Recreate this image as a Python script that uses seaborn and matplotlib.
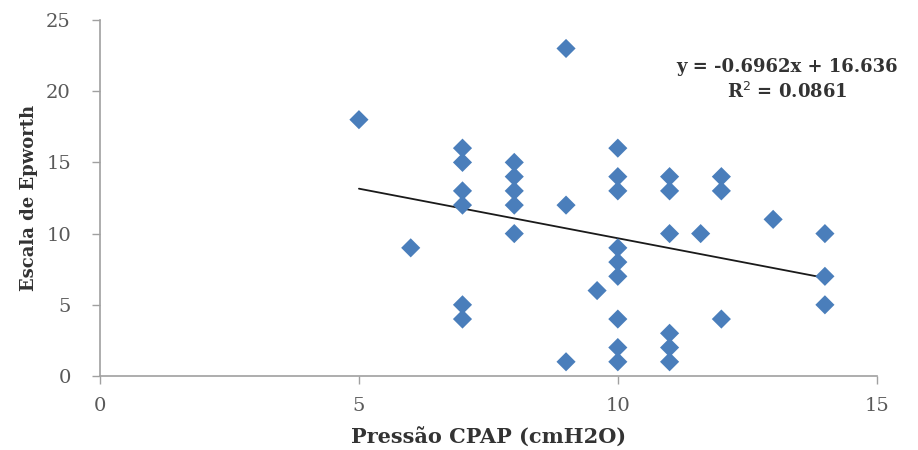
# Scatter of Epworth score vs CPAP pressure with linear trend line
import numpy as np
import pandas as pd
import matplotlib
matplotlib.use('Agg')
import matplotlib.pyplot as plt
import seaborn as sns

# Data
pressao = [5, 6,
           7, 7, 7, 7, 7, 7,
           8, 8, 8, 8, 8,
           9, 9, 9, 9.6,
           10, 10, 10, 10, 10, 10, 10, 10, 10,
           11, 11, 11, 11, 11, 11, 11.6,
           12, 12, 12, 13,
           14, 14, 14]
epworth = [18, 9,
           16, 15, 13, 12, 5, 4,
           15, 14, 13, 12, 10,
           23, 12, 1, 6,
           16, 14, 13, 9, 8, 7, 4, 2, 1,
           14, 13, 10, 3, 2, 1, 10,
           14, 13, 4, 11,
           10, 7, 5]

# trend line given on the chart
slope = -0.6962
intercept = 16.636
r2 = 0.0861

x_ticks = [0, 5, 10, 15]
y_ticks = [0, 5, 10, 15, 20, 25]

df = pd.DataFrame({'Pressao': pressao, 'Epworth': epworth})

sns.set_style('white')
plt.rcParams['font.family'] = ['DejaVu Serif']

fig = plt.figure(figsize=(9.18, 4.5), dpi=100)
ax = fig.add_axes([0.109, 0.1644, 0.846, 0.7912])

sns.scatterplot(data=df, x='Pressao', y='Epworth', marker='D', s=95,
                color='#4a7ebb', edgecolor='none', linewidth=0, ax=ax, zorder=3)

# trend line over the data range
xs = np.array([df['Pressao'].min(), df['Pressao'].max()])
ax.plot(xs, slope * xs + intercept, color='#1a1a1a', linewidth=1.3, zorder=2)

ax.text(0.885, 0.832, f'y = {slope}x + {intercept}\nR$^2$ = {r2}',
        transform=ax.transAxes, ha='center', va='center', fontsize=13,
        fontweight='bold', color='#333333', linespacing=1.35)

ax.set_xlim(0, 15)
ax.set_ylim(0, 25)
ax.set_xticks(x_ticks)
ax.set_yticks(y_ticks)
ax.tick_params(axis='both', labelsize=14, labelcolor='#595959', color='#a0a0a0',
               direction='out', length=6, width=1, bottom=True, left=True)
ax.tick_params(axis='y', pad=15)
ax.tick_params(axis='x', pad=9)

for side in ['top', 'right']:
    ax.spines[side].set_visible(False)
for side in ['left', 'bottom']:
    ax.spines[side].set_color('#a0a0a0')
    ax.spines[side].set_linewidth(1.2)

ax.set_xlabel('Pressão CPAP (cmH2O)', fontsize=15, fontweight='bold', color='#333333', labelpad=9)
ax.set_ylabel('Escala de Epworth', fontsize=13, fontweight='bold', color='#333333', labelpad=6)

fig.savefig('out.png', dpi=100)
